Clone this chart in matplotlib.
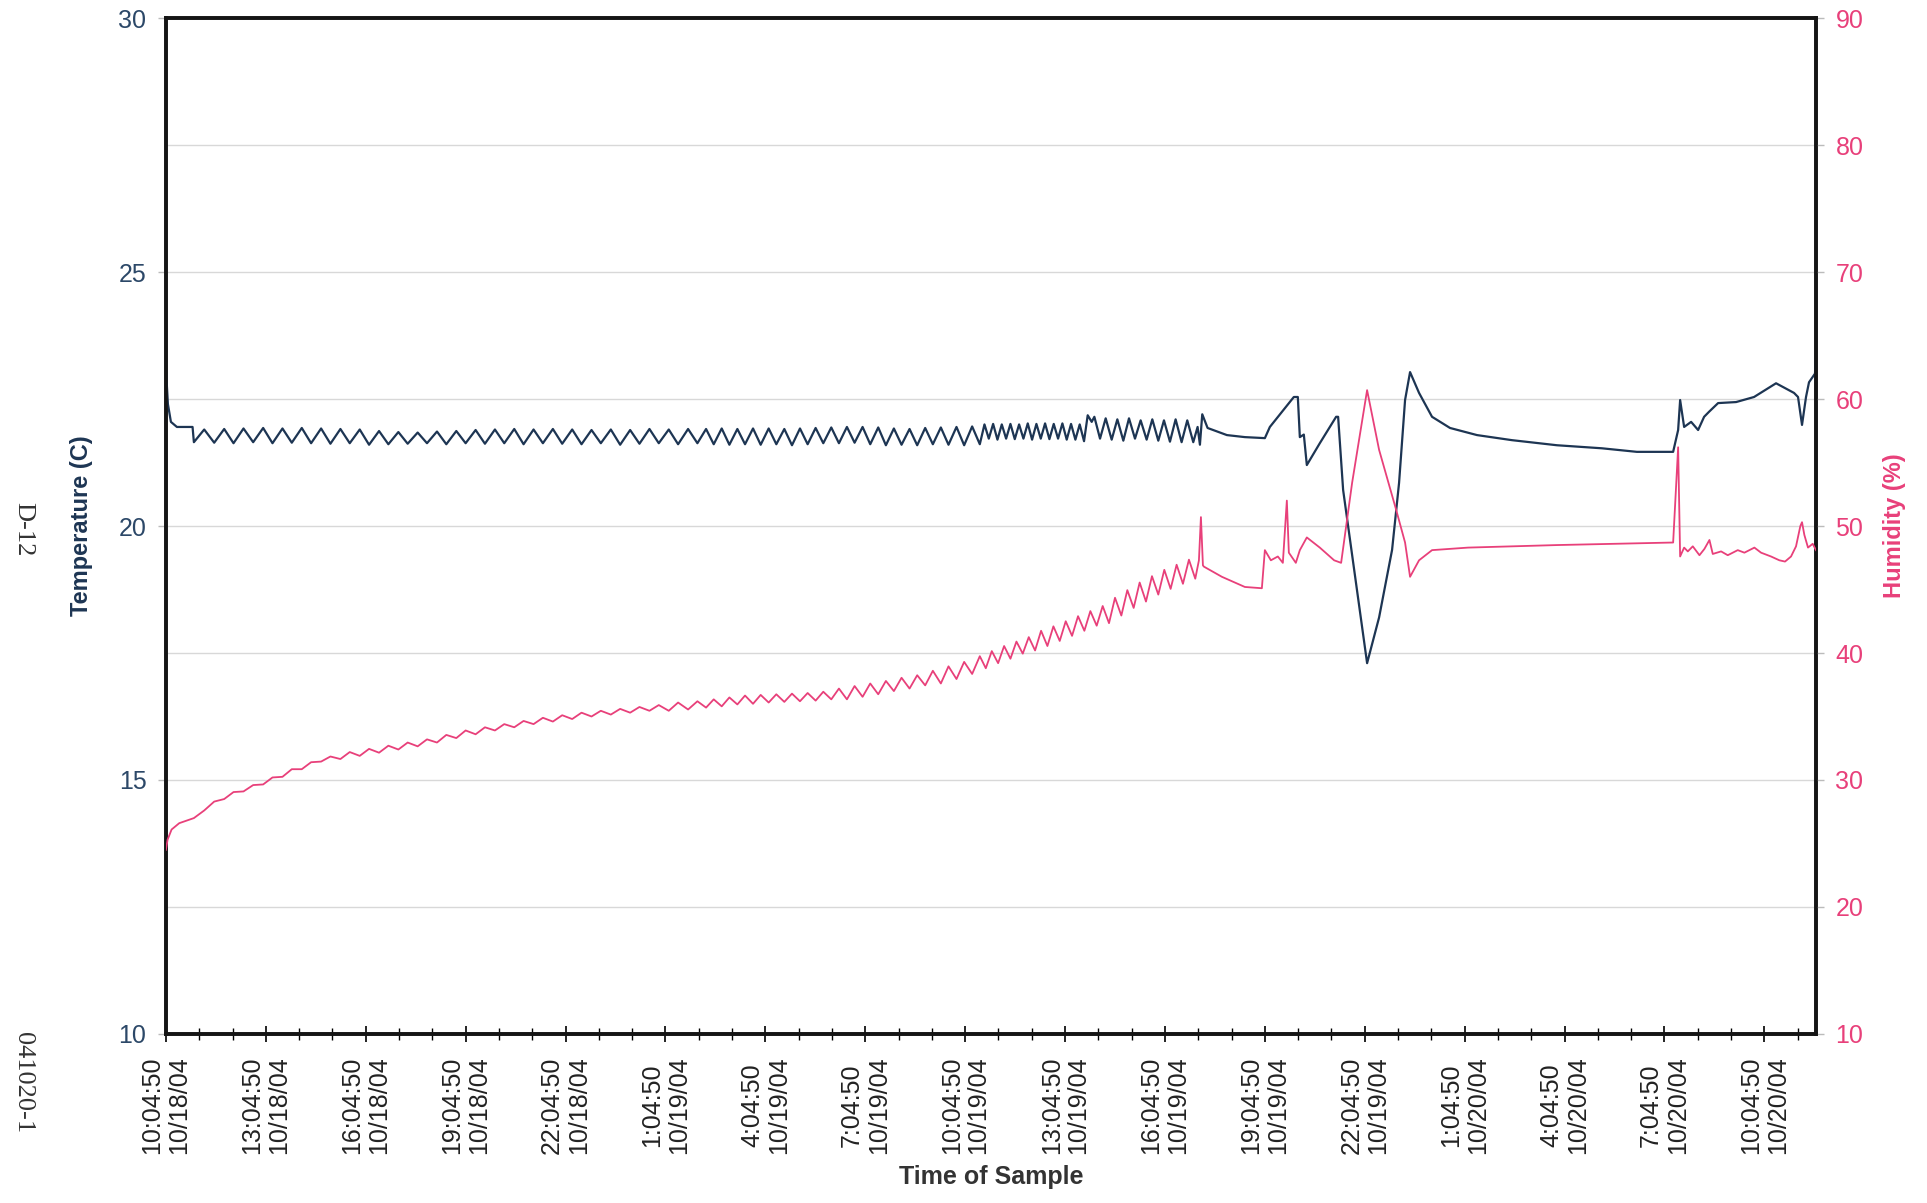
import matplotlib
matplotlib.use("Agg")
from matplotlib import pyplot as plt

plt.rcParams["font.family"] = ["Liberation Sans", "DejaVu Sans"]

# hours since 10:04:50 10/18/04
temp_hours = [
    0.00, 0.06, 0.15, 0.33, 0.80, 0.84,
    1.15, 1.45, 1.75, 2.03, 2.33, 2.62, 2.92, 3.20, 3.50, 3.78, 4.08, 4.36,
    4.66, 4.94, 5.24, 5.52, 5.82, 6.10, 6.40, 6.68, 6.98, 7.26, 7.56, 7.84,
    8.14, 8.42, 8.72, 9.00, 9.30, 9.58, 9.88, 10.16, 10.46, 10.74, 11.04, 11.32,
    11.62, 11.90, 12.20, 12.48, 12.78, 13.06, 13.36, 13.64, 13.94, 14.22, 14.52,
    14.80, 15.10, 15.38, 15.68, 15.96,
    16.22, 16.45, 16.69, 16.92, 17.16, 17.39, 17.63, 17.86, 18.10, 18.33, 18.57,
    18.80, 19.04, 19.27, 19.51, 19.74, 19.98, 20.21, 20.45, 20.68, 20.92, 21.15,
    21.39, 21.62, 21.86, 22.09, 22.33, 22.56, 22.80, 23.03, 23.27, 23.50, 23.74,
    23.97, 24.21, 24.44,
    24.58, 24.71, 24.84, 24.97, 25.10, 25.23, 25.36, 25.49, 25.62, 25.75, 25.88,
    26.01, 26.14, 26.27, 26.40, 26.53, 26.66, 26.79, 26.92, 27.05, 27.18, 27.31,
    27.44, 27.57,
    27.68, 27.80, 27.88, 28.05, 28.22, 28.40, 28.57, 28.75, 28.92, 29.10, 29.27,
    29.45, 29.62, 29.80, 29.97, 30.15, 30.32, 30.50, 30.67, 30.85, 30.98, 31.05,
    31.12, 31.28,
    31.86, 32.40, 33.00, 33.15, 33.60, 33.87, 33.99, 34.05, 34.17, 34.26, 34.65,
    35.14, 35.20, 35.35, 36.07, 36.43, 36.82, 37.03, 37.21, 37.36, 37.63, 38.02,
    38.56, 39.37, 40.42, 41.77, 43.12, 44.17, 45.26, 45.41, 45.47, 45.59, 45.80,
    46.01, 46.19, 46.34, 46.61, 47.15, 47.69, 48.35, 48.89, 49.01, 49.13, 49.25,
    49.34, 49.52, 49.55,
]
temp_c = [
    23.10, 22.40, 22.05, 21.95, 21.95, 21.65,
    21.90, 21.64, 21.91, 21.63, 21.92, 21.65, 21.93, 21.63, 21.92, 21.64, 21.93, 21.63,
    21.92, 21.62, 21.91, 21.63, 21.90, 21.60, 21.87, 21.61, 21.85, 21.62, 21.84, 21.63,
    21.86, 21.61, 21.87, 21.63, 21.89, 21.62, 21.90, 21.63, 21.91, 21.61, 21.90, 21.63,
    21.91, 21.62, 21.90, 21.61, 21.89, 21.63, 21.90, 21.60, 21.89, 21.62, 21.91,
    21.63, 21.90, 21.61, 21.91, 21.63,
    21.91, 21.61, 21.92, 21.60, 21.91, 21.61, 21.92, 21.60, 21.92, 21.61, 21.91,
    21.59, 21.92, 21.61, 21.93, 21.63, 21.94, 21.63, 21.95, 21.64, 21.95, 21.61,
    21.94, 21.59, 21.92, 21.60, 21.91, 21.59, 21.93, 21.61, 21.94, 21.60, 21.95,
    21.59, 21.96, 21.61,
    22.00, 21.72, 22.01, 21.70, 22.00, 21.72, 22.01, 21.71, 22.00, 21.72, 22.02,
    21.70, 22.01, 21.72, 22.02, 21.71, 22.01, 21.72, 22.02, 21.70, 22.01, 21.70,
    22.00, 21.67,
    22.18, 22.05, 22.15, 21.72, 22.12, 21.70, 22.10, 21.68, 22.12, 21.72, 22.08,
    21.70, 22.10, 21.68, 22.08, 21.66, 22.10, 21.65, 22.08, 21.65, 21.95, 21.60,
    22.20, 21.93,
    21.79, 21.75, 21.73, 21.95, 22.32, 22.54, 22.54, 21.75, 21.80, 21.20, 21.63,
    22.15, 22.15, 20.71, 17.30, 18.20, 19.53, 20.85, 22.48, 23.03, 22.62, 22.15,
    21.93, 21.79, 21.69, 21.59, 21.53, 21.46, 21.46, 21.89, 22.48, 21.95, 22.05,
    21.89, 22.15, 22.25, 22.42, 22.44, 22.54, 22.81, 22.62, 22.54, 21.99, 22.54,
    22.83, 23.00, 23.46,
]

hum_hours = [
    0.00, 0.05, 0.17, 0.40, 0.84,
    1.15, 1.45, 1.75, 2.03, 2.33, 2.62, 2.92, 3.20, 3.50, 3.78, 4.08, 4.36,
    4.66, 4.94, 5.24, 5.52, 5.82, 6.10, 6.40, 6.68, 6.98, 7.26, 7.56, 7.84,
    8.14, 8.42, 8.72, 9.00, 9.30, 9.58, 9.88, 10.16, 10.46, 10.74, 11.04, 11.32,
    11.62, 11.90, 12.20, 12.48, 12.78, 13.06, 13.36, 13.64, 13.94, 14.22, 14.52,
    14.80, 15.10, 15.38, 15.68, 15.96,
    16.22, 16.45, 16.69, 16.92, 17.16, 17.39, 17.63, 17.86, 18.10, 18.33, 18.57,
    18.80, 19.04, 19.27, 19.51, 19.74, 19.98, 20.21, 20.45, 20.68, 20.92, 21.15,
    21.39, 21.62, 21.86, 22.09, 22.33, 22.56, 22.80, 23.03, 23.27, 23.50, 23.74,
    23.97, 24.21, 24.44,
    24.62, 24.80, 24.99, 25.17, 25.36, 25.54, 25.73, 25.91, 26.10, 26.28, 26.47,
    26.65, 26.84, 27.02, 27.21, 27.39, 27.58, 27.76, 27.95, 28.13, 28.32, 28.50,
    28.69, 28.87, 29.06, 29.24, 29.43, 29.61, 29.80, 29.98, 30.17, 30.35, 30.54,
    30.72, 30.91, 31.02, 31.08, 31.14,
    31.17, 31.71, 32.40, 32.91, 33.00, 33.18, 33.39, 33.54, 33.66, 33.72, 33.93,
    34.05, 34.26, 34.65, 35.08, 35.29, 35.62, 36.07, 36.43, 36.94, 37.21, 37.36,
    37.63, 38.02, 39.10, 41.77, 45.26, 45.41, 45.47, 45.59, 45.70, 45.85, 46.05,
    46.20, 46.35, 46.45, 46.70, 46.90, 47.20, 47.40, 47.70, 47.90, 48.20, 48.45,
    48.62, 48.80, 48.95, 49.08, 49.13, 49.20, 49.31, 49.45, 49.55,
]
hum_pct = [
    24.5, 25.3, 26.1, 26.6, 27.0,
    27.6, 28.3, 28.5, 29.05, 29.1, 29.6, 29.65, 30.2, 30.25, 30.85, 30.85, 31.4,
    31.45, 31.85, 31.65, 32.2, 31.9, 32.45, 32.15, 32.7, 32.4, 32.95, 32.65, 33.2,
    32.95, 33.55, 33.3, 33.9, 33.6, 34.15, 33.9, 34.4, 34.15, 34.65, 34.4, 34.9,
    34.6, 35.1, 34.8, 35.3, 35.0, 35.45, 35.15, 35.6, 35.3, 35.75, 35.45,
    35.9, 35.45, 36.1, 35.55, 36.2,
    35.7, 36.35, 35.8, 36.5, 35.95, 36.65, 36.0, 36.7, 36.1, 36.75, 36.15,
    36.8, 36.2, 36.85, 36.25, 36.95, 36.35, 37.2, 36.35, 37.4, 36.55, 37.6,
    36.75, 37.8, 37.0, 38.05, 37.2, 38.25, 37.45, 38.6, 37.6, 38.95, 37.95,
    39.3, 38.35, 39.75,
    38.8, 40.15, 39.2, 40.55, 39.55, 40.9, 39.95, 41.25, 40.2, 41.75, 40.55,
    42.1, 40.95, 42.5, 41.35, 42.9, 41.75, 43.3, 42.15, 43.7, 42.35, 44.35,
    42.95, 44.95, 43.55, 45.55, 44.05, 46.05, 44.6, 46.55, 45.05, 46.95, 45.45,
    47.35, 45.85, 47.3, 50.7, 46.9,
    46.8, 46.0, 45.2, 45.1, 48.1, 47.3, 47.6, 47.1, 52.0, 47.9, 47.1,
    48.1, 49.1, 48.3, 47.3, 47.1, 53.4, 60.7, 56.0, 51.3, 48.7, 46.0,
    47.3, 48.1, 48.3, 48.5, 48.7, 56.2, 47.6, 48.3, 48.0, 48.4, 47.7,
    48.2, 48.9, 47.8, 48.0, 47.7, 48.1, 47.9, 48.3, 47.9, 47.6, 47.3,
    47.2, 47.6, 48.4, 50.0, 50.3, 49.3, 48.3, 48.6, 48.1,
]

tick_labels = [
    "10:04:50\n10/18/04", "13:04:50\n10/18/04", "16:04:50\n10/18/04",
    "19:04:50\n10/18/04", "22:04:50\n10/18/04", "1:04:50\n10/19/04",
    "4:04:50\n10/19/04", "7:04:50\n10/19/04", "10:04:50\n10/19/04",
    "13:04:50\n10/19/04", "16:04:50\n10/19/04", "19:04:50\n10/19/04",
    "22:04:50\n10/19/04", "1:04:50\n10/20/04", "4:04:50\n10/20/04",
    "7:04:50\n10/20/04", "10:04:50\n10/20/04",
]

navy = "#1d3553"
pink = "#e8407a"

fig = plt.figure(figsize=(19.27, 12.03), dpi=100)
ax = fig.add_axes([0.0861, 0.1405, 0.8563, 0.8445])
ax2 = ax.twinx()

ax.plot(temp_hours, temp_c, color=navy, lw=1.6, zorder=3)
ax2.plot(hum_hours, hum_pct, color=pink, lw=1.3, zorder=3)

ax.set_xlim(0, 49.55)
ax.set_ylim(10, 30)
ax2.set_ylim(10, 90)

# x ticks every 3 hours, minor every hour
ax.set_xticks(range(0, 49, 3))
ax.set_xticklabels(tick_labels, rotation=90, ha="center", va="top",
                   multialignment="center", fontsize=18, color="#222222",
                   linespacing=1.15)
ax.set_xticks(range(0, 50), minor=True)
ax.tick_params(axis="x", which="major", direction="inout", length=12, width=1.2, pad=10)
ax.tick_params(axis="x", which="minor", direction="inout", length=8, width=1.0)

ax.set_yticks([10, 15, 20, 25, 30])
ax.set_yticks([12.5, 17.5, 22.5, 27.5], minor=True)
ax.tick_params(axis="y", which="major", labelsize=18, labelcolor="#2c4868",
               length=6, width=1.0, color="#bbbbbb", pad=8)
ax.tick_params(axis="y", which="minor", length=0)
ax.grid(axis="y", which="both", color="#d8d8d8", lw=1.0, zorder=0)
ax.set_axisbelow(True)

ax2.set_yticks(range(10, 91, 10))
ax2.tick_params(axis="y", labelsize=18, labelcolor=pink, length=6, width=1.0,
                color="#bbbbbb", pad=8)

for a in (ax, ax2):
    for s in a.spines.values():
        s.set_linewidth(2.6)
        s.set_color("#151515")

ax.set_ylabel("Temperature (C)", fontsize=17, fontweight="bold", color=navy, labelpad=18)
ax2.set_ylabel("Humidity (%)", fontsize=17, fontweight="bold", color=pink, labelpad=14)
ax.set_xlabel("Time of Sample", fontsize=18, fontweight="bold", color="#333333", labelpad=8)

fig.text(0.012, 0.56, "D-12", rotation=270, ha="center", va="center",
         fontsize=19, family="Liberation Serif", color="#333333")
fig.text(0.012, 0.10, "041020-1", rotation=270, ha="center", va="center",
         fontsize=19, family="Liberation Serif", color="#333333")

fig.savefig("out.png", dpi=100)
